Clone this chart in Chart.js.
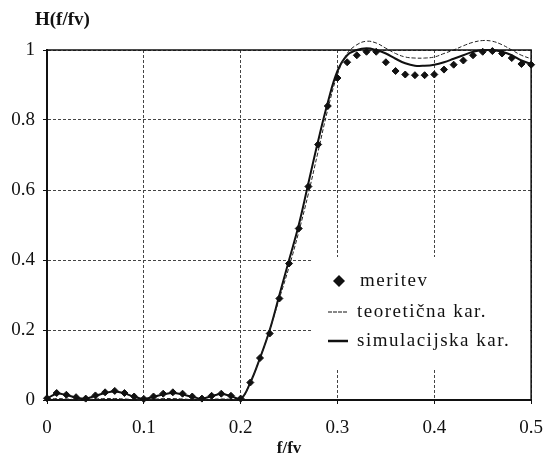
<!DOCTYPE html>
<html>
<head>
<meta charset="utf-8">
<script src="https://cdn.jsdelivr.net/npm/chart.js@4/dist/chart.umd.min.js"></script>
<style>
  body { margin: 0; background: #fff; }
</style>
</head>
<body>
<canvas id="c" width="556" height="459"></canvas>
<script>
// f/fv
const freq = [0.00, 0.01, 0.02, 0.03, 0.04, 0.05, 0.06, 0.07, 0.08, 0.09,
  0.10, 0.11, 0.12, 0.13, 0.14, 0.15, 0.16, 0.17, 0.18, 0.19,
  0.20, 0.21, 0.22, 0.23, 0.24, 0.25, 0.26, 0.27, 0.28, 0.29,
  0.30, 0.31, 0.32, 0.33, 0.34, 0.35, 0.36, 0.37, 0.38, 0.39,
  0.40, 0.41, 0.42, 0.43, 0.44, 0.45, 0.46, 0.47, 0.48, 0.49, 0.50]

const meritev = [0.005, 0.020, 0.015, 0.008, 0.004, 0.013, 0.022, 0.026, 0.020, 0.010,
  0.003, 0.010, 0.018, 0.022, 0.018, 0.010, 0.004, 0.012, 0.018, 0.012,
  0.004, 0.050, 0.120, 0.190, 0.290, 0.390, 0.490, 0.610, 0.730, 0.840,
  0.920, 0.965, 0.985, 0.995, 0.995, 0.965, 0.940, 0.930, 0.928, 0.928,
  0.930, 0.944, 0.958, 0.970, 0.985, 0.995, 0.997, 0.990, 0.977, 0.960, 0.958]

const teoreticna = [0.002, 0.004, 0.003, 0.001, 0.001, 0.003, 0.004, 0.004, 0.003, 0.001,
  0.000, 0.002, 0.004, 0.004, 0.003, 0.001, 0.000, 0.002, 0.003, 0.002,
  0.000, 0.050, 0.120, 0.200, 0.290, 0.380, 0.480, 0.590, 0.710, 0.830,
  0.930, 0.990, 1.015, 1.025, 1.020, 1.005, 0.990, 0.980, 0.977, 0.977,
  0.980, 0.990, 1.000, 1.012, 1.022, 1.027, 1.025, 1.015, 1.000, 0.985, 0.975]

const simulacija = [0.004, 0.018, 0.014, 0.007, 0.004, 0.012, 0.020, 0.024, 0.019, 0.009,
  0.003, 0.009, 0.016, 0.020, 0.016, 0.009, 0.004, 0.011, 0.017, 0.011,
  0.003, 0.050, 0.120, 0.200, 0.300, 0.400, 0.500, 0.620, 0.740, 0.850,
  0.940, 0.985, 1.000, 1.005, 1.000, 0.990, 0.975, 0.962, 0.955, 0.955,
  0.958, 0.965, 0.975, 0.985, 0.995, 1.000, 1.000, 0.995, 0.985, 0.970, 0.960]

const legendLabels = ['meritev', 'teoretična kar.', 'simulacijska kar.']
const yTitle = 'H(f/fv)'
const xTitle = 'f/fv'

const serif = '"Liberation Serif", "Times New Roman", serif'

const toPoints = (vals) => vals.map((v, i) => ({ x: freq[i], y: v }))
const fmt = (v) => String(Math.round(v * 10) / 10)

// horizontal y title, frame on the top/right, legend box inside the plot
const extras = {
  id: 'extras',
  afterDatasetsDraw(chart) {
    const ctx = chart.ctx
    const a = chart.chartArea
    ctx.save()
    ctx.strokeStyle = '#111'
    ctx.lineWidth = 1.5
    ctx.beginPath()
    ctx.moveTo(a.left, a.top)
    ctx.lineTo(a.right, a.top)
    ctx.lineTo(a.right, a.bottom)
    ctx.stroke()

    ctx.fillStyle = '#111'
    ctx.font = 'bold 19px ' + serif
    ctx.textBaseline = 'middle'
    ctx.textAlign = 'left'
    ctx.fillText(yTitle, 35, 20)

    // legend
    ctx.fillStyle = '#fff'
    ctx.fillRect(313, 257, 217, 112)
    const rows = [281, 312, 341]
    ctx.fillStyle = '#111'
    ctx.font = '19px ' + serif
    ctx.letterSpacing = '1.5px'
    ctx.fillText(legendLabels[0], 360, rows[0])
    ctx.fillText(legendLabels[1], 357, rows[1])
    ctx.fillText(legendLabels[2], 357, rows[2])
    ctx.letterSpacing = '0px'

    ctx.beginPath()
    ctx.moveTo(339, rows[0] - 6)
    ctx.lineTo(345, rows[0])
    ctx.lineTo(339, rows[0] + 6)
    ctx.lineTo(333, rows[0])
    ctx.closePath()
    ctx.fill()

    ctx.strokeStyle = '#111'
    ctx.lineWidth = 1
    ctx.setLineDash([4, 1])
    ctx.beginPath()
    ctx.moveTo(328, rows[1])
    ctx.lineTo(348, rows[1])
    ctx.stroke()
    ctx.setLineDash([])
    ctx.lineWidth = 2.5
    ctx.beginPath()
    ctx.moveTo(328, rows[2])
    ctx.lineTo(348, rows[2])
    ctx.stroke()
    ctx.restore()
  }
}

new Chart(document.getElementById('c'), {
  type: 'line',
  data: {
    datasets: [
      {
        label: legendLabels[0],
        data: toPoints(meritev),
        showLine: false,
        pointStyle: 'rectRot',
        pointRadius: 3.5,
        backgroundColor: '#111',
        borderColor: '#111',
        clip: false
      },
      {
        label: legendLabels[1],
        data: toPoints(teoreticna),
        borderColor: '#222',
        borderWidth: 1,
        borderDash: [4, 2],
        pointRadius: 0,
        tension: 0.4,
        clip: false
      },
      {
        label: legendLabels[2],
        data: toPoints(simulacija),
        borderColor: '#111',
        borderWidth: 2,
        pointRadius: 0,
        tension: 0.4,
        clip: false
      }
    ]
  },
  options: {
    responsive: false,
    animation: false,
    layout: { padding: { left: 0, right: 15, top: 50, bottom: 0 } },
    plugins: {
      legend: { display: false },
      tooltip: { enabled: false }
    },
    scales: {
      x: {
        type: 'linear',
        min: 0,
        max: 0.5,
        afterFit: (s) => { s.height = 59 },
        ticks: { stepSize: 0.1, color: '#111', padding: 13, callback: fmt, font: { family: serif, size: 19 } },
        grid: {
          color: (c) => c.tick && c.tick.value > 0 ? '#444' : 'transparent',
          tickColor: '#111',
          tickLength: 4,
          lineWidth: 1
        },
        border: { color: '#111', width: 2, dash: [3, 2] },
        title: {
          display: true,
          text: xTitle,
          color: '#111',
          padding: { top: 0, bottom: 0 },
          font: { family: serif, size: 17, weight: 'bold' }
        }
      },
      y: {
        min: 0,
        max: 1,
        afterFit: (s) => { s.width = 47 },
        ticks: { stepSize: 0.2, color: '#111', padding: 8, callback: fmt, font: { family: serif, size: 19 } },
        grid: {
          color: (c) => c.tick && c.tick.value > 0 ? '#444' : 'transparent',
          tickColor: '#111',
          tickLength: 4,
          lineWidth: 1
        },
        border: { color: '#111', width: 2, dash: [3, 2] }
      }
    }
  },
  plugins: [extras]
})
</script>
</body>
</html>
